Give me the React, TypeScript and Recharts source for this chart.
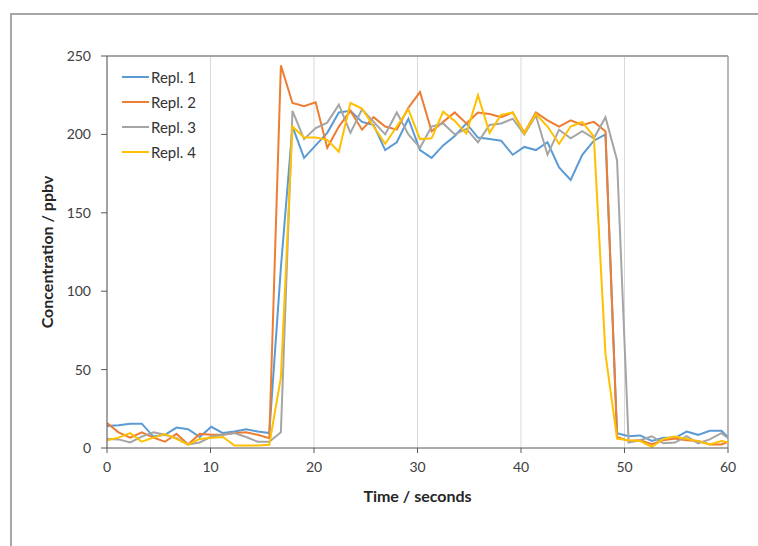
import React from 'react';
import { LineChart, Line, XAxis, YAxis, CartesianGrid, ReferenceLine, Legend, Label } from 'recharts';

const times = [
  0, 1.12, 2.24, 3.36, 4.48, 5.6, 6.72, 7.84, 8.96, 10.08,
  11.2, 12.32, 13.44, 14.56, 15.68, 16.8, 17.92, 19.04, 20.16, 21.28,
  22.4, 23.52, 24.64, 25.76, 26.88, 28, 29.12, 30.24, 31.36, 32.48,
  33.6, 34.72, 35.84, 36.96, 38.08, 39.2, 40.32, 41.44, 42.56, 43.68,
  44.8, 45.92, 47.04, 48.16, 49.28, 50.4, 51.52, 52.64, 53.76, 54.88,
  56, 57.12, 58.24, 59.36, 60.48,
];

const repl1 = [
  14, 14.5, 15.5, 15.5, 7.3, 8.4, 13, 12, 7, 13.5,
  9.5, 10.5, 12, 10.5, 9.5, 115, 205, 185, 193, 201,
  214, 215, 208, 206, 190, 195, 210, 190, 185, 193,
  199, 207, 198, 197, 196, 187, 192, 190, 195, 179,
  171, 187, 196, 200, 9.5, 7.5, 8, 4.5, 6.5, 6.5,
  10.5, 8.4, 11, 11, 4,
];

const repl2 = [
  16, 10, 6.6, 10, 6.6, 4, 9, 2.3, 9, 8.4,
  8.4, 9.5, 10, 8.4, 6.2, 244, 220, 218, 220.5, 191.5,
  205, 215, 203, 211, 205, 203, 217, 227, 202, 208,
  214, 207, 214, 213, 211, 214, 201, 214, 209, 205,
  209, 206, 208, 202, 7, 4.5, 5, 2.5, 5, 6,
  5, 4.4, 2.2, 2.2, 5,
];

const repl3 = [
  5.8, 5.5, 3.5, 7.3, 10, 8.4, 6.2, 2.2, 3.5, 7.3,
  8.4, 9.5, 7, 4, 4, 10, 215, 197, 204, 207.5,
  219, 201, 216, 208, 200, 214, 200, 191.5, 205, 207,
  200, 203.5, 195, 206, 207, 210, 200, 212, 187, 203,
  197.5, 202, 197.5, 211, 183.5, 3.5, 5, 7.5, 3, 3.5,
  7.5, 3, 5.5, 9.5, 4,
];

const repl4 = [
  5, 6.6, 9.5, 4, 6.6, 8.9, 5.8, 2.2, 5.8, 6.6,
  7, 1.6, 1.6, 1.6, 2, 45, 205, 198, 198, 196.5,
  189, 220, 216.5, 205, 194, 205, 216, 197, 197.5, 214.5,
  208.5, 200.5, 225, 201, 212.5, 214, 200.6, 213, 205, 194,
  205, 208, 198.6, 60, 6, 5, 4.4, 0.8, 5.8, 7.3,
  5.8, 4.4, 2.2, 4.5, 3,
];

const seriesNames = ['Repl. 1', 'Repl. 2', 'Repl. 3', 'Repl. 4'];
const seriesKeys = ['r1', 'r2', 'r3', 'r4'];
const seriesColors = ['#5B9BD5', '#ED7D31', '#A5A5A5', '#FFC000'];
const xTicks = [0, 10, 20, 30, 40, 50, 60];
const yTicks = [0, 50, 100, 150, 200, 250];

const rows = times.map((t, i) => ({
  t,
  r1: repl1[i],
  r2: repl2[i],
  r3: repl3[i],
  r4: repl4[i],
}));

const FONT = 'Lato, "Open Sans", sans-serif';

const LegendBox = () => (
  <div style={{ fontFamily: FONT, fontSize: 15, color: '#333' }}>
    {seriesNames.map((n, i) => (
      <div key={n} style={{ display: 'flex', alignItems: 'center', height: 25 }}>
        <span
          style={{
            display: 'inline-block',
            width: 27,
            height: 0,
            borderTop: `2px solid ${seriesColors[i]}`,
            marginRight: 2,
          }}
        />
        <span>{n}</span>
      </div>
    ))}
  </div>
);

export default function App() {
  return (
    <div style={{ position: 'absolute', left: 0, top: 0, width: 758, height: 546, background: '#fff', overflow: 'hidden' }}>
      <div
        style={{
          position: 'absolute',
          left: 10,
          top: 13,
          width: 760,
          height: 545,
          borderTop: '2px solid #a6a6a6',
          borderLeft: '2px solid #a6a6a6',
        }}
      />
      <LineChart
        width={758}
        height={546}
        data={rows}
        margin={{ top: 56, right: 30, bottom: 58, left: 47 }}
        style={{ position: 'absolute', left: 0, top: 0 }}
      >
        <CartesianGrid horizontal={false} stroke="#d9d9d9" strokeWidth={1} />
        <XAxis
          type="number"
          dataKey="t"
          domain={[0, 60]}
          ticks={xTicks}
          allowDataOverflow
          height={40}
          tickSize={5}
          tickMargin={9}
          stroke="#595959"
          tick={{ fontFamily: FONT, fontSize: 14, fill: '#404040' }}
        >
          <Label
            value="Time / seconds"
            position="center"
            dy={28}
            style={{ fontFamily: FONT, fontSize: 16, fontWeight: 700, fill: '#262626' }}
          />
        </XAxis>
        <YAxis
          type="number"
          domain={[0, 250]}
          ticks={yTicks}
          allowDataOverflow
          width={60}
          tickSize={6}
          tickMargin={10}
          stroke="#595959"
          tick={{ fontFamily: FONT, fontSize: 14, fill: '#404040' }}
        >
          <Label
            value="Concentration / ppbv"
            angle={-90}
            position="center"
            dx={-30}
            style={{ fontFamily: FONT, fontSize: 16, fontWeight: 700, fill: '#262626', textAnchor: 'middle' }}
          />
        </YAxis>
        <ReferenceLine y={250} stroke="#a6a6a6" strokeWidth={2} ifOverflow="extendDomain" />
        <ReferenceLine x={60} stroke="#a6a6a6" strokeWidth={1.5} />
        {seriesKeys.map((k, i) => (
          <Line
            key={k}
            type="linear"
            dataKey={k}
            name={seriesNames[i]}
            stroke={seriesColors[i]}
            strokeWidth={2}
            dot={false}
            activeDot={false}
            isAnimationActive={false}
          />
        ))}
        <Legend
          layout="horizontal"
          verticalAlign="middle"
          align="center"
          content={<LegendBox />}
          wrapperStyle={{ left: 122, top: 64, width: 110, height: 100 }}
        />
      </LineChart>
    </div>
  );
}
